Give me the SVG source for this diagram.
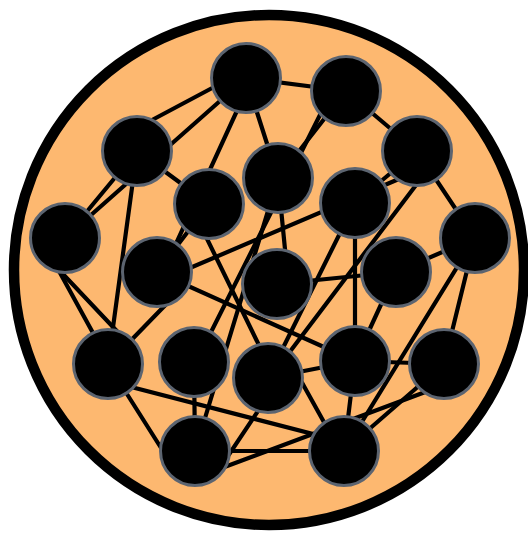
<svg xmlns="http://www.w3.org/2000/svg" width="528" height="533" viewBox="0 0 528 533">
<style>
.e{stroke:#000;stroke-width:4.2;stroke-linecap:round}
.n{fill:#000;stroke:#5c6470;stroke-width:3}
</style>
<rect width="528" height="533" fill="#fff"/>
<circle cx="269" cy="270" r="255" fill="#FDB870" stroke="#000" stroke-width="10.5"/>
<g id="connectors">
<line class="e" x1="246" y1="78" x2="346" y2="91"/>
<line class="e" x1="246" y1="70" x2="137" y2="128"/>
<line class="e" x1="246" y1="78" x2="65" y2="238"/>
<line class="e" x1="252" y1="78" x2="163" y2="272"/>
<line class="e" x1="246" y1="78" x2="278" y2="178"/>
<line class="e" x1="346" y1="91" x2="278" y2="178"/>
<line class="e" x1="330" y1="95" x2="196" y2="362"/>
<line class="e" x1="346" y1="91" x2="417" y2="151"/>
<line class="e" x1="137" y1="151" x2="65" y2="238"/>
<line class="e" x1="137" y1="151" x2="209" y2="204"/>
<line class="e" x1="137" y1="151" x2="108" y2="364"/>
<line class="e" x1="417" y1="151" x2="355" y2="203"/>
<line class="e" x1="157" y1="282" x2="420" y2="170"/>
<line class="e" x1="417" y1="151" x2="475" y2="238"/>
<line class="e" x1="435" y1="160" x2="270" y2="378"/>
<line class="e" x1="278" y1="178" x2="290" y2="300"/>
<line class="e" x1="278" y1="178" x2="195" y2="451"/>
<line class="e" x1="209" y1="204" x2="157" y2="272"/>
<line class="e" x1="190" y1="204" x2="275" y2="378"/>
<line class="e" x1="355" y1="203" x2="268" y2="378"/>
<line class="e" x1="355" y1="203" x2="355" y2="361"/>
<line class="e" x1="42" y1="240" x2="110" y2="364"/>
<line class="e" x1="45" y1="255" x2="130" y2="345"/>
<line class="e" x1="475" y1="238" x2="396" y2="272"/>
<line class="e" x1="475" y1="238" x2="444" y2="364"/>
<line class="e" x1="475" y1="238" x2="344" y2="451"/>
<line class="e" x1="180" y1="290" x2="108" y2="364"/>
<line class="e" x1="157" y1="272" x2="355" y2="361"/>
<line class="e" x1="277" y1="284" x2="396" y2="272"/>
<line class="e" x1="396" y1="272" x2="355" y2="361"/>
<line class="e" x1="108" y1="364" x2="175" y2="470"/>
<line class="e" x1="108" y1="381" x2="344" y2="442"/>
<line class="e" x1="194" y1="362" x2="195" y2="451"/>
<line class="e" x1="268" y1="378" x2="355" y2="361"/>
<line class="e" x1="280" y1="378" x2="216" y2="474"/>
<line class="e" x1="295" y1="370" x2="340" y2="451"/>
<line class="e" x1="355" y1="361" x2="444" y2="364"/>
<line class="e" x1="355" y1="361" x2="344" y2="451"/>
<line class="e" x1="444" y1="364" x2="344" y2="451"/>
<line class="e" x1="444" y1="385" x2="195" y2="478"/>
<line class="e" x1="195" y1="451" x2="344" y2="451"/>
</g>
<g id="nA"><circle class="n" cx="246" cy="78" r="34.5"/></g>
<g id="nB"><circle class="n" cx="346" cy="91" r="34.5"/></g>
<g id="nC"><circle class="n" cx="137" cy="151" r="34.5"/></g>
<g id="nD"><circle class="n" cx="417" cy="151" r="34.5"/></g>
<g id="nE"><circle class="n" cx="278" cy="178" r="34.5"/></g>
<g id="nF"><circle class="n" cx="209" cy="204" r="34.5"/></g>
<g id="nG"><circle class="n" cx="355" cy="203" r="34.5"/></g>
<g id="nH"><circle class="n" cx="65" cy="238" r="34.5"/></g>
<g id="nI"><circle class="n" cx="475" cy="238" r="34.5"/></g>
<g id="nJ"><circle class="n" cx="157" cy="272" r="34.5"/></g>
<g id="nK"><circle class="n" cx="277" cy="284" r="34.5"/></g>
<g id="nL"><circle class="n" cx="396" cy="272" r="34.5"/></g>
<g id="nM"><circle class="n" cx="108" cy="364" r="34.5"/></g>
<g id="nN"><circle class="n" cx="194" cy="362" r="34.5"/></g>
<g id="nO"><circle class="n" cx="268" cy="378" r="34.5"/></g>
<g id="nP"><circle class="n" cx="355" cy="361" r="34.5"/></g>
<g id="nQ"><circle class="n" cx="444" cy="364" r="34.5"/></g>
<g id="nR"><circle class="n" cx="195" cy="451" r="34.5"/></g>
<g id="nS"><circle class="n" cx="344" cy="451" r="34.5"/></g>
</svg>
